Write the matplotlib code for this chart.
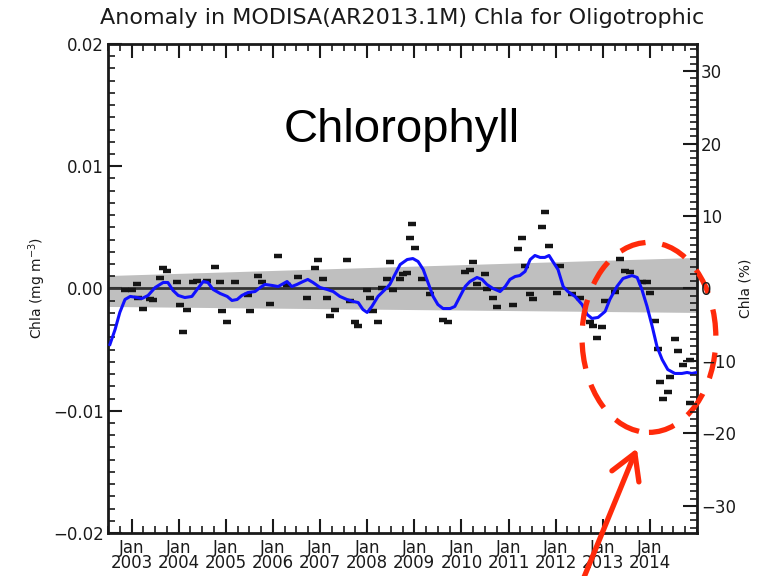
import numpy as np
import matplotlib
matplotlib.use("Agg")
from matplotlib import pyplot as plt
from matplotlib.patches import Ellipse, FancyArrowPatch
from matplotlib.ticker import MultipleLocator, FixedLocator

# smoothed anomaly: decimal year, value in 1e-3 mg m^-3
smooth_t = [2002.54, 2002.65, 2002.75, 2002.86, 2002.97, 2003.12, 2003.22,
            2003.35, 2003.50, 2003.67, 2003.77, 2003.88, 2003.99, 2004.13,
            2004.28, 2004.39, 2004.52, 2004.62, 2004.73, 2004.88, 2005.03,
            2005.13, 2005.24, 2005.34, 2005.47, 2005.62, 2005.73, 2005.83,
            2005.98, 2006.11, 2006.30, 2006.40, 2006.51, 2006.64, 2006.74,
            2006.85, 2007.00, 2007.15, 2007.28, 2007.42, 2007.57, 2007.70,
            2007.81, 2007.91, 2008.00, 2008.10, 2008.23, 2008.38, 2008.48,
            2008.59, 2008.70, 2008.85, 2008.97, 2009.08, 2009.19, 2009.29,
            2009.40, 2009.50, 2009.61, 2009.76, 2009.86, 2009.97, 2010.08,
            2010.18, 2010.33, 2010.44, 2010.54, 2010.67, 2010.82, 2010.93,
            2011.03, 2011.14, 2011.24, 2011.35, 2011.46, 2011.56, 2011.67,
            2011.77, 2011.86, 2011.94, 2012.05, 2012.16, 2012.26, 2012.41,
            2012.56, 2012.67, 2012.77, 2012.90, 2013.05, 2013.15, 2013.30,
            2013.43, 2013.62, 2013.73, 2013.83, 2013.94, 2014.05, 2014.15,
            2014.26, 2014.38, 2014.53, 2014.68, 2014.79, 2014.89, 2015.00]
smooth_v = [-4.58, -3.35, -1.96, -0.90, -0.65, -0.74, -0.82,
            -0.57, 0.08, 0.49, 0.49, -0.16, -0.57, -0.74,
            -0.65, -0.08, 0.57, 0.49, -0.08, -0.41, -0.65,
            -0.98, -0.90, -0.57, -0.33, -0.25, 0.08, 0.33,
            0.25, 0.16, 0.57, 0.16, 0.33, 0.57, 0.74,
            0.49, 0.08, -0.08, -0.25, -0.65, -0.90, -1.06,
            -1.15, -1.72, -1.96, -1.47, -0.65, -0.08, 0.33,
            1.15, 1.96, 2.37, 2.45, 2.21, 1.55, 0.49,
            -0.65, -1.31, -1.64, -1.64, -1.47, -0.65, 0.16,
            0.57, 0.90, 0.74, 0.33, 0.00, -0.25, 0.16,
            0.74, 0.98, 1.06, 1.39, 2.37, 2.70, 2.54,
            2.54, 2.70, 2.21, 1.55, 0.16, -0.25, -0.65,
            -1.31, -2.13, -2.45, -2.37, -1.88, -0.90, 0.16,
            0.82, 1.06, 0.90, -0.08, -1.47, -3.11, -4.74,
            -5.81, -6.63, -6.95, -6.95, -6.87, -6.95, -6.87]

# monthly anomalies: decimal year, value in 1e-3 mg m^-3
month_t = [2002.86, 2003.01, 2003.12, 2003.14, 2003.24, 2003.39, 2003.45,
           2003.60, 2003.67, 2003.75, 2003.96, 2004.03, 2004.09, 2004.18,
           2004.30, 2004.39, 2004.60, 2004.77, 2004.88, 2004.92, 2005.03,
           2005.20, 2005.47, 2005.51, 2005.68, 2005.77, 2005.94, 2006.11,
           2006.30, 2006.53, 2006.72, 2006.89, 2006.96, 2007.06, 2007.15,
           2007.21, 2007.32, 2007.57, 2007.64, 2007.74, 2007.81, 2008.00,
           2008.06, 2008.12, 2008.23, 2008.31, 2008.42, 2008.48, 2008.55,
           2008.70, 2008.76, 2008.85, 2008.91, 2008.95, 2009.02, 2009.16,
           2009.33, 2009.61, 2009.72, 2010.08, 2010.18, 2010.25, 2010.33,
           2010.50, 2010.54, 2010.67, 2010.76, 2011.09, 2011.20, 2011.29,
           2011.35, 2011.46, 2011.52, 2011.71, 2011.77, 2011.86, 2012.03,
           2012.09, 2012.35, 2012.52, 2012.73, 2012.79, 2012.88, 2012.98,
           2013.05, 2013.26, 2013.37, 2013.47, 2013.58, 2013.83, 2013.94,
           2014.00, 2014.11, 2014.17, 2014.21, 2014.28, 2014.38, 2014.43,
           2014.53, 2014.60, 2014.70, 2014.85, 2014.85]
month_v = [-0.16, -0.16, 0.33, -0.74, -1.64, -0.90, -0.98,
           0.82, 1.64, 1.39, 0.49, -1.39, -3.52, -1.72,
           0.49, 0.65, 0.65, 1.72, 0.49, -1.88, -2.78,
           0.57, -0.57, -1.88, 1.06, 0.57, -1.23, 2.62,
           0.25, 0.98, -0.74, 1.64, 2.37, 0.74, -0.74,
           -2.29, -1.72, 2.37, -1.06, -2.78, -3.03, -0.16,
           -0.74, -1.88, -2.78, 0.08, 0.74, 2.13, -0.16,
           0.74, 1.15, 1.23, 4.09, 5.24, 3.35, 0.74,
           -0.49, -2.54, -2.78, 1.31, 1.55, 2.13, 0.33,
           1.15, -0.08, -0.74, -1.55, -1.39, 3.27, 4.17,
           1.80, -0.49, -0.90, 5.07, 6.22, 3.44, -0.33,
           1.80, -0.49, -0.74, -2.78, -3.03, -4.09, -3.19,
           -1.06, -0.25, 2.45, 1.39, 1.31, 0.57, 0.49,
           -0.33, -2.70, -4.99, -7.61, -9.08, -8.43, -7.28,
           -4.17, -5.15, -6.22, -5.89, -9.33]

# trend confidence band at both ends of the record (1e-3 mg m^-3)
band_t = [2002.5, 2015.0]
band_lo = [-1.47, -1.96]
band_hi = [1.06, 2.54]

year_ticks = list(range(2003, 2015))
year_labels = [f"Jan\n{y}" for y in year_ticks]
chl_mean = 0.0593  # mg m^-3, scale for the percent axis
ylim_mg = 0.02

tick_font = {"family": "DejaVu Sans", "size": 12}
ink = "#1a1a1a"
red = "#ff2a0a"


def main():

    # figure and axes placement
    fig = plt.figure(figsize=(7.64, 5.76), dpi=100)
    ax = fig.add_axes([0.1414, 0.0747, 0.7709, 0.8489])

    # gray band and zero line
    ax.fill_between(band_t, np.array(band_lo) * 1e-3,
                    np.array(band_hi) * 1e-3, color="#bfbfbf", lw=0,
                    zorder=1)
    ax.axhline(0, color="#333333", lw=2, zorder=2)

    # monthly values as short dashes and the smoothed curve
    ax.plot(month_t, np.array(month_v) * 1e-3, ls="none", marker="_",
            ms=6, mew=3.2, color="#151515", zorder=3)
    ax.plot(smooth_t, np.array(smooth_v) * 1e-3, color="#1010ff", lw=2.2,
            zorder=4)

    # limits and ticks
    ax.set_xlim(2002.5, 2015.0)
    ax.set_ylim(-ylim_mg, ylim_mg)
    ax.xaxis.set_major_locator(FixedLocator(year_ticks))
    ax.xaxis.set_minor_locator(MultipleLocator(0.25))
    ax.set_xticklabels(year_labels, fontdict=tick_font, linespacing=0.85,
                       color=ink)
    ax.yaxis.set_major_locator(MultipleLocator(0.01))
    ax.yaxis.set_minor_locator(MultipleLocator(0.001))
    ax.set_yticklabels([f"{v:.2f}".replace("-", "\u2212")
                        for v in ax.get_yticks()], fontdict=tick_font,
                       color=ink)
    ax.tick_params(which="major", direction="in", length=10, width=1.5,
                   top=True, right=False, pad=3, colors=ink)
    ax.tick_params(which="minor", direction="in", length=5, width=1.2,
                   top=True, right=False, colors=ink)
    ax.tick_params(axis="x", which="major", pad=4)
    for spine in ax.spines.values():
        spine.set_linewidth(2)
        spine.set_color(ink)
    ax.set_ylabel("Chla (mg m$^{-3}$)", fontsize=10, color=ink,
                  labelpad=4)

    # percent axis on the right
    ax2 = ax.twinx()
    ax2.set_ylim(-ylim_mg / chl_mean * 100, ylim_mg / chl_mean * 100)
    ax2.yaxis.set_major_locator(MultipleLocator(10))
    ax2.yaxis.set_minor_locator(MultipleLocator(1))
    ax2.tick_params(which="major", direction="in", length=10, width=1.5,
                    labelsize=12, pad=3, colors=ink)
    ax2.tick_params(which="minor", direction="in", length=5, width=1.2,
                    colors=ink)
    for lab in ax2.get_yticklabels():
        lab.set_family("DejaVu Sans")
    for spine in ax2.spines.values():
        spine.set_visible(False)
    ax2.set_ylabel("Chla (%)", fontsize=10, color=ink, rotation=90,
                   labelpad=2)

    # title
    fig.text(0.526, 0.968,
             "Anomaly in MODISA(AR2013.1M) Chla for Oligotrophic",
             ha="center", va="center", fontsize=16, color=ink,
             family="DejaVu Sans")

    # overlay annotations
    ax.text(0.499, 0.824, "Chlorophyll", transform=ax.transAxes,
            ha="center", va="center", fontsize=34, family="Liberation Sans",
            color="black")
    ring = Ellipse((2013.98, -0.0040), 2.84, 0.01554, fill=False,
                   edgecolor=red, lw=3.8, ls=(0, (5, 3.2)),
                   clip_on=False, zorder=6)
    ax.add_patch(ring)
    fig.patches.append(FancyArrowPatch(
        (0.762, -0.01), (0.835, 0.226), transform=fig.transFigure,
        arrowstyle="->,head_length=12,head_width=7", color=red,
        lw=3.8, mutation_scale=1.5))

    fig.savefig("out.png", dpi=100)


if __name__ == "__main__":
    main()
